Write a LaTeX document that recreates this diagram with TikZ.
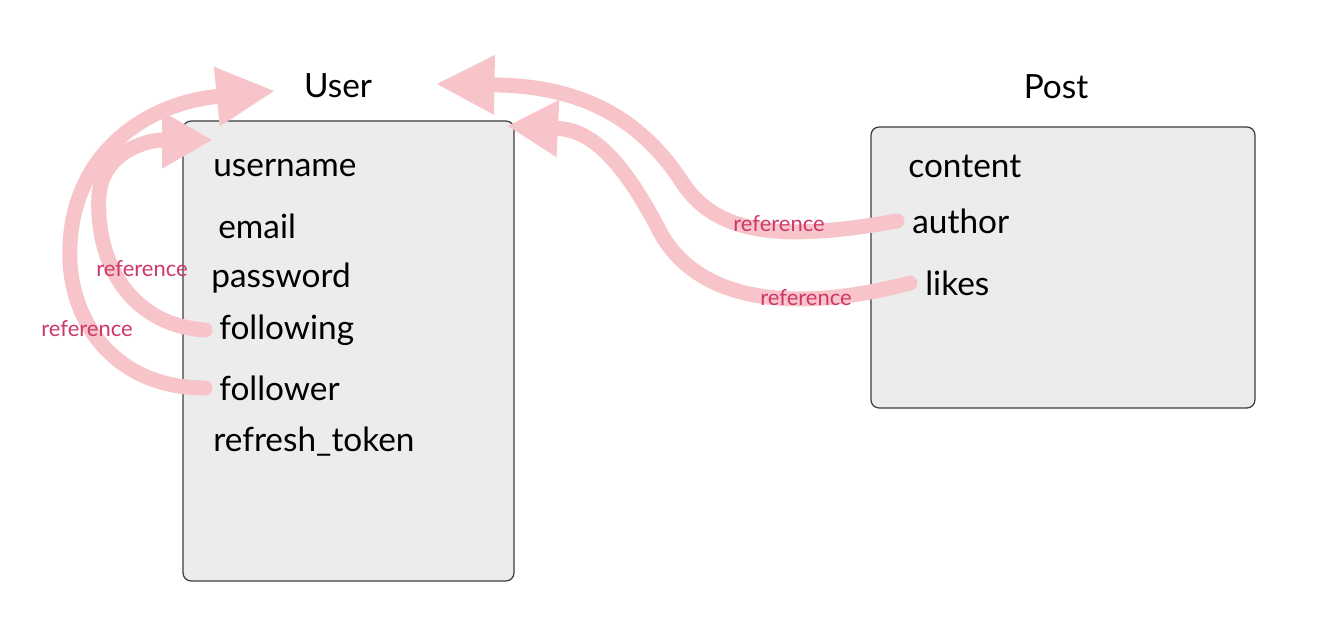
\documentclass[tikz,border=0pt]{standalone}
\usepackage{fontspec}
\setmainfont{Lato}
\usetikzlibrary{arrows.meta}

\definecolor{boxgray}{RGB}{236,236,236}
\definecolor{boxline}{RGB}{60,60,60}
\definecolor{refpink}{RGB}{247,197,201}
\definecolor{reftext}{RGB}{205,55,105}

\begin{document}
\begin{tikzpicture}[x=0.02cm,y=-0.02cm,
    table/.style={shape=rectangle,draw=boxline,fill=boxgray,line width=0.7pt,
                  rounded corners=0.16cm,inner sep=0pt},
    title/.style={font=\fontsize{19}{23}\selectfont},
    field/.style={anchor=west,inner sep=0pt,font=\fontsize{19}{23}\selectfont},
    reflabel/.style={text=reftext,inner sep=0pt,font=\fontsize{12.5}{15}\selectfont},
    refarrow/.style={draw=refpink,line width=0.3cm,line cap=round,
                     -{Triangle[length=1.15cm,width=1.2cm,line width=0pt]}},
    refarrowsmall/.style={refarrow,-{Triangle[length=1cm,width=1.15cm,line width=0pt]}}]

      \useasboundingbox (0,0) rectangle (1326,616);

      \path node (userbox) at (348.5,351)
            [table,minimum width=6.62cm,minimum height=9.2cm] {};
      \path node (postbox) at (1063,267.5)
            [table,minimum width=7.68cm,minimum height=5.62cm] {};

      \path node (user) at (338,86) [title] {User};
      \path node (post) at (1056,87) [title] {Post};

      \path node (username) at (213,168) [field] {username};
      \path node (email) at (218,226) [field] {email};
      \path node (password) at (211,278) [field] {password};
      \path node (following) at (219,330) [field] {following};
      \path node (follower) at (219,388) [field] {follower};
      \path node (refreshtoken) at (213,442) [field] {refresh\_token};

      \path node (content) at (908,166) [field] {content};
      \path node (author) at (912,221) [field] {author};
      \path node (likes) at (925,283) [field] {likes};

      \coordinate (userhead1) at (212,140);
      \coordinate (userhead2) at (274,91);
      \coordinate (userhead3) at (437,84);
      \coordinate (userhead4) at (508,126);

      \draw[refarrowsmall] ([xshift=-0.28cm]following.west)
            .. controls (130,325) and (95,262) .. (99,195)
            .. controls (103,150) and (150,140) .. (userhead1);
      \draw[refarrow] ([xshift=-0.28cm]follower.west)
            .. controls (110,388) and (66,315) .. (70,245)
            .. controls (74,150) and (150,103) .. (userhead2);
      \draw[refarrow] ([xshift=-0.3cm]author.west)
            .. controls (790,240) and (718,238) .. (682,182)
            .. controls (635,110) and (570,86) .. (userhead3);
      \draw[refarrowsmall] ([xshift=-0.3cm]likes.west)
            .. controls (800,312) and (700,305) .. (660,232)
            .. controls (622,158) and (590,130) .. (userhead4);

      \path node (ref1) at (142,269) [reflabel] {reference};
      \path node (ref2) at (87,329) [reflabel] {reference};
      \path node (ref3) at (779,224) [reflabel] {reference};
      \path node (ref4) at (806,298) [reflabel] {reference};
    \end{tikzpicture}
\end{document}
